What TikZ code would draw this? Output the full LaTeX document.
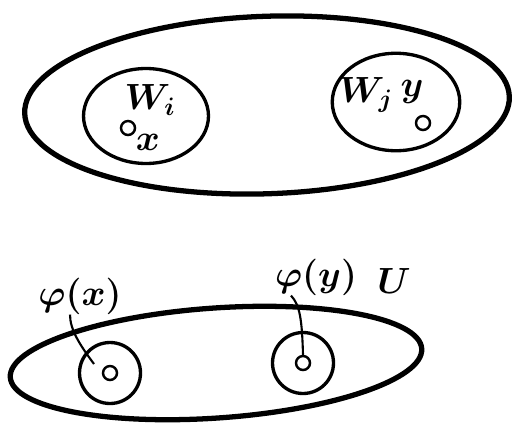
\documentclass[tikz,border=0pt]{standalone}
\usepackage{tikz}
\usetikzlibrary{shapes.geometric}

\begin{document}
\begin{tikzpicture}[
  x=0.02cm, y=-0.02cm,
  font=\huge\boldmath,
  set/.style={ellipse, draw, line width=3pt, inner sep=0pt},
  part/.style={ellipse, draw, line width=1.9pt, inner sep=0pt},
  pt/.style={circle, draw, line width=1.4pt, minimum size=0.28cm, inner sep=0pt},
  lab/.style={inner sep=0pt},
  lead/.style={line width=1.2pt},
]
\useasboundingbox (0,0) rectangle (513,426);

% top: the space with the pieces W_i and W_j
\node[set, minimum width=9.7cm, minimum height=3.55cm, rotate=2] (space) at (267,105) {};
\node[part, minimum width=2.5cm, minimum height=1.9cm] (wi) at (146,116) {};
\node[part, minimum width=2.55cm, minimum height=1.95cm] (wj) at (396,102) {};
\node[lab] (wilab) at (150,100) {$W_i$};
\node[pt] (x) at (128,128) {};
\node[lab] (xlab) at (148,142) {$x$};
\node[lab] (wjlab) at (366,95) {$W_j$};
\node[lab] (ylab) at (412,92) {$y$};
\node[pt] (y) at (423,123) {};

% bottom: the image U
\node[set, minimum width=8.25cm, minimum height=2.2cm, rotate=4] (U) at (216,363) {};
\node[part, circle, minimum size=1.22cm] (cx) at (110,373) {};
\node[part, circle, minimum size=1.22cm] (cy) at (303,363) {};
\node[pt] (fx) at (110,373) {};
\node[pt] (fy) at (303,363) {};
\node[lab] (phix) at (80,296) {$\varphi(x)$};
\node[lab] (phiy) at (316,277) {$\varphi(y)$};
\node[lab] (ulab) at (394,281) {$U$};

\coordinate (xend) at (94,364);
\draw[lead] ([xshift=-0.2cm]phix.south) .. controls (70,330) and (80,345) .. (xend);
\draw[lead] ([xshift=-0.5cm]phiy.south) .. controls (300,305) and (302,320) .. (fy.north);
\end{tikzpicture}
\end{document}
